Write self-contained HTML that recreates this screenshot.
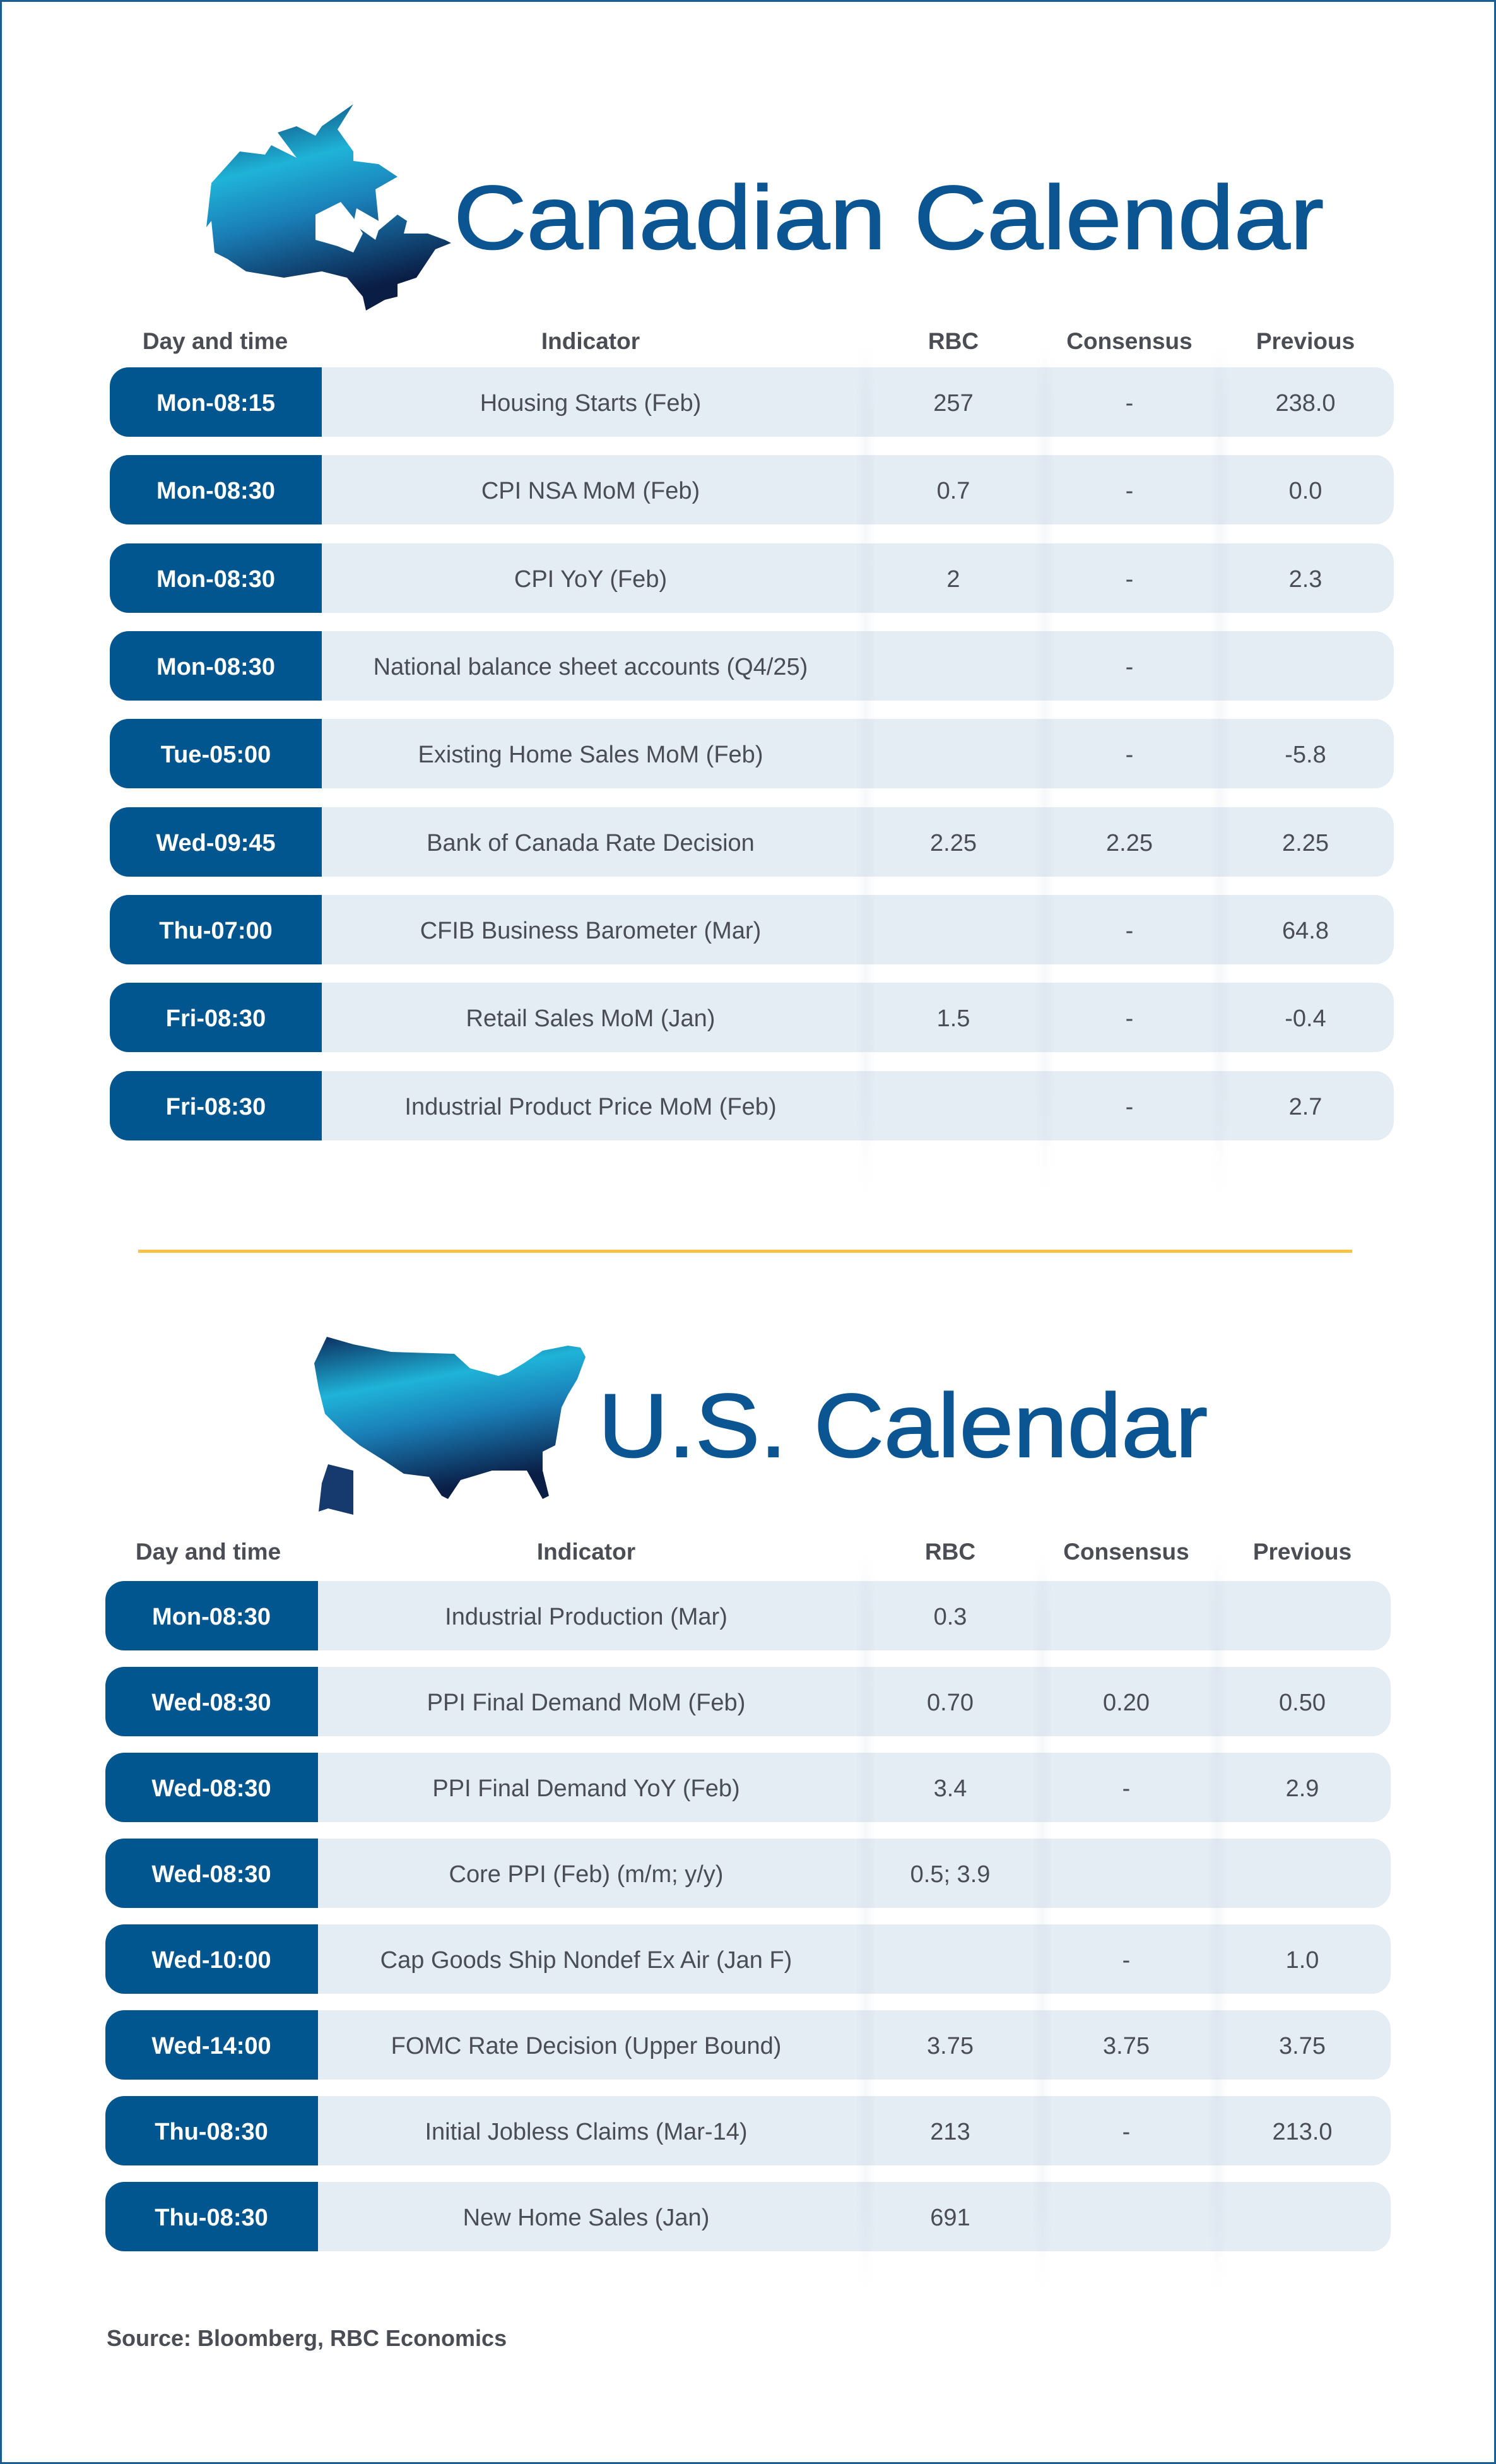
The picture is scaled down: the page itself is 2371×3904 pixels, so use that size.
<!DOCTYPE html>
<html><head><meta charset="utf-8"><style>
*{margin:0;padding:0;box-sizing:border-box}
body{width:2371px;height:3904px;position:relative;background:#fff;font-family:"Liberation Sans",sans-serif;overflow:hidden}
.frame{position:absolute;left:0;top:0;width:2371px;height:3904px;border:3px solid #1b5e94}
.row{position:absolute;height:110px;background:#e4ecf4;border-radius:30px;overflow:hidden}
.dk{position:absolute;left:0;top:0;height:110px;background:#02568f}
.t{position:absolute;top:2px;height:110px;line-height:110px;font-size:38px;color:#4a4e54;text-align:center;white-space:nowrap;transform:translateX(-50%)}
.w{color:#fff;font-weight:bold}
.h{position:absolute;font-size:37px;font-weight:bold;color:#4a4e54;transform:translateX(-50%);white-space:nowrap}
.sh{position:absolute;width:30px;background:linear-gradient(90deg,rgba(180,190,205,0) ,rgba(180,190,205,.12),rgba(180,190,205,0));-webkit-mask-image:linear-gradient(180deg,transparent,#000 8%,#000 85%,transparent)}
</style></head><body>
<div class="frame"></div>

<svg width="2371" height="3904" style="position:absolute;left:0;top:0">
<defs>
<linearGradient id="g1" x1="0" y1="0" x2="0.3" y2="1">
<stop offset="0" stop-color="#0c2d5e"/><stop offset="0.35" stop-color="#1fb3d8"/><stop offset="0.6" stop-color="#1a7fb8"/><stop offset="1" stop-color="#0a1d45"/></linearGradient>
</defs>
<polygon fill="url(#g1)" points="335,290 380,240 420,245 430,230 470,250 440,210 470,200 500,215 510,200 560,165 535,205 560,240 560,255 600,260 630,280 595,300 600,350 565,330 560,355 595,380 600,365 630,340 645,350 640,370 678,370 705,380 715,385 690,395 680,410 660,440 630,450 630,470 610,475 580,492 575,470 550,440 510,430 450,440 390,430 360,410 340,400 335,350 327,360"/>
<polygon fill="#fff" points="500,340 540,320 560,345 575,370 560,400 535,390 500,380"/>
<polygon fill="url(#g1)" points="518,2118 560,2130 620,2142 720,2145 745,2168 790,2180 805,2175 830,2160 860,2140 900,2132 920,2135 928,2150 915,2185 900,2210 890,2230 885,2260 880,2290 860,2300 860,2330 870,2370 860,2375 835,2330 780,2330 730,2345 710,2375 700,2370 680,2340 640,2335 610,2315 570,2290 545,2270 515,2240 505,2200 498,2160"/>
<polygon fill="#163a6e" points="520,2320 560,2330 560,2400 520,2390 505,2395 510,2350"/>
<text x="719" y="394" font-family="Liberation Sans,sans-serif" font-size="143" fill="#0a5592" stroke="#0a5592" stroke-width="2" textLength="1379" lengthAdjust="spacingAndGlyphs">Canadian Calendar</text>
<text x="948" y="2308" font-family="Liberation Sans,sans-serif" font-size="143" fill="#0a5592" stroke="#0a5592" stroke-width="2" textLength="966" lengthAdjust="spacingAndGlyphs">U.S. Calendar</text>
</svg>

<div class="h" style="left:341px;top:520px">Day and time</div>
<div class="h" style="left:936px;top:520px">Indicator</div>
<div class="h" style="left:1511px;top:520px">RBC</div>
<div class="h" style="left:1790px;top:520px">Consensus</div>
<div class="h" style="left:2069px;top:520px">Previous</div>

<div class="row" style="left:174px;width:2035px;top:582px"><div class="dk" style="width:336px"></div><div class="t w" style="left:168px">Mon-08:15</div><div class="t" style="left:762px">Housing Starts (Feb)</div><div class="t" style="left:1337px">257</div><div class="t" style="left:1616px">-</div><div class="t" style="left:1895px">238.0</div></div>
<div class="row" style="left:174px;width:2035px;top:721px"><div class="dk" style="width:336px"></div><div class="t w" style="left:168px">Mon-08:30</div><div class="t" style="left:762px">CPI NSA MoM (Feb)</div><div class="t" style="left:1337px">0.7</div><div class="t" style="left:1616px">-</div><div class="t" style="left:1895px">0.0</div></div>
<div class="row" style="left:174px;width:2035px;top:861px"><div class="dk" style="width:336px"></div><div class="t w" style="left:168px">Mon-08:30</div><div class="t" style="left:762px">CPI YoY (Feb)</div><div class="t" style="left:1337px">2</div><div class="t" style="left:1616px">-</div><div class="t" style="left:1895px">2.3</div></div>
<div class="row" style="left:174px;width:2035px;top:1000px"><div class="dk" style="width:336px"></div><div class="t w" style="left:168px">Mon-08:30</div><div class="t" style="left:762px">National balance sheet accounts (Q4/25)</div><div class="t" style="left:1616px">-</div></div>
<div class="row" style="left:174px;width:2035px;top:1139px"><div class="dk" style="width:336px"></div><div class="t w" style="left:168px">Tue-05:00</div><div class="t" style="left:762px">Existing Home Sales MoM (Feb)</div><div class="t" style="left:1616px">-</div><div class="t" style="left:1895px">-5.8</div></div>
<div class="row" style="left:174px;width:2035px;top:1279px"><div class="dk" style="width:336px"></div><div class="t w" style="left:168px">Wed-09:45</div><div class="t" style="left:762px">Bank of Canada Rate Decision</div><div class="t" style="left:1337px">2.25</div><div class="t" style="left:1616px">2.25</div><div class="t" style="left:1895px">2.25</div></div>
<div class="row" style="left:174px;width:2035px;top:1418px"><div class="dk" style="width:336px"></div><div class="t w" style="left:168px">Thu-07:00</div><div class="t" style="left:762px">CFIB Business Barometer (Mar)</div><div class="t" style="left:1616px">-</div><div class="t" style="left:1895px">64.8</div></div>
<div class="row" style="left:174px;width:2035px;top:1557px"><div class="dk" style="width:336px"></div><div class="t w" style="left:168px">Fri-08:30</div><div class="t" style="left:762px">Retail Sales MoM (Jan)</div><div class="t" style="left:1337px">1.5</div><div class="t" style="left:1616px">-</div><div class="t" style="left:1895px">-0.4</div></div>
<div class="row" style="left:174px;width:2035px;top:1697px"><div class="dk" style="width:336px"></div><div class="t w" style="left:168px">Fri-08:30</div><div class="t" style="left:762px">Industrial Product Price MoM (Feb)</div><div class="t" style="left:1616px">-</div><div class="t" style="left:1895px">2.7</div></div>

<div class="sh" style="left:1357px;top:540px;height:1360px"></div>
<div class="sh" style="left:1641px;top:540px;height:1360px"></div>
<div class="sh" style="left:1919px;top:540px;height:1360px"></div>

<div style="position:absolute;left:219px;top:1980px;width:1924px;height:5px;background:#f5c445"></div>

<div class="h" style="left:330px;top:2438px">Day and time</div>
<div class="h" style="left:929px;top:2438px">Indicator</div>
<div class="h" style="left:1506px;top:2438px">RBC</div>
<div class="h" style="left:1785px;top:2438px">Consensus</div>
<div class="h" style="left:2064px;top:2438px">Previous</div>

<div class="row" style="left:167px;width:2037px;top:2505px"><div class="dk" style="width:337px"></div><div class="t w" style="left:168px">Mon-08:30</div><div class="t" style="left:762px">Industrial Production (Mar)</div><div class="t" style="left:1339px">0.3</div></div>
<div class="row" style="left:167px;width:2037px;top:2641px"><div class="dk" style="width:337px"></div><div class="t w" style="left:168px">Wed-08:30</div><div class="t" style="left:762px">PPI Final Demand MoM (Feb)</div><div class="t" style="left:1339px">0.70</div><div class="t" style="left:1618px">0.20</div><div class="t" style="left:1897px">0.50</div></div>
<div class="row" style="left:167px;width:2037px;top:2777px"><div class="dk" style="width:337px"></div><div class="t w" style="left:168px">Wed-08:30</div><div class="t" style="left:762px">PPI Final Demand YoY (Feb)</div><div class="t" style="left:1339px">3.4</div><div class="t" style="left:1618px">-</div><div class="t" style="left:1897px">2.9</div></div>
<div class="row" style="left:167px;width:2037px;top:2913px"><div class="dk" style="width:337px"></div><div class="t w" style="left:168px">Wed-08:30</div><div class="t" style="left:762px">Core PPI (Feb) (m/m; y/y)</div><div class="t" style="left:1339px">0.5; 3.9</div></div>
<div class="row" style="left:167px;width:2037px;top:3049px"><div class="dk" style="width:337px"></div><div class="t w" style="left:168px">Wed-10:00</div><div class="t" style="left:762px">Cap Goods Ship Nondef Ex Air (Jan F)</div><div class="t" style="left:1618px">-</div><div class="t" style="left:1897px">1.0</div></div>
<div class="row" style="left:167px;width:2037px;top:3185px"><div class="dk" style="width:337px"></div><div class="t w" style="left:168px">Wed-14:00</div><div class="t" style="left:762px">FOMC Rate Decision (Upper Bound)</div><div class="t" style="left:1339px">3.75</div><div class="t" style="left:1618px">3.75</div><div class="t" style="left:1897px">3.75</div></div>
<div class="row" style="left:167px;width:2037px;top:3321px"><div class="dk" style="width:337px"></div><div class="t w" style="left:168px">Thu-08:30</div><div class="t" style="left:762px">Initial Jobless Claims (Mar-14)</div><div class="t" style="left:1339px">213</div><div class="t" style="left:1618px">-</div><div class="t" style="left:1897px">213.0</div></div>
<div class="row" style="left:167px;width:2037px;top:3457px"><div class="dk" style="width:337px"></div><div class="t w" style="left:168px">Thu-08:30</div><div class="t" style="left:762px">New Home Sales (Jan)</div><div class="t" style="left:1339px">691</div></div>

<div class="sh" style="left:1357px;top:2460px;height:1180px"></div>
<div class="sh" style="left:1637px;top:2460px;height:1180px"></div>
<div class="sh" style="left:1915px;top:2460px;height:1180px"></div>

<div style="position:absolute;left:169px;top:3684px;font-size:36px;font-weight:bold;color:#4a4e54;white-space:nowrap">Source: Bloomberg, RBC Economics</div>
</body></html>
